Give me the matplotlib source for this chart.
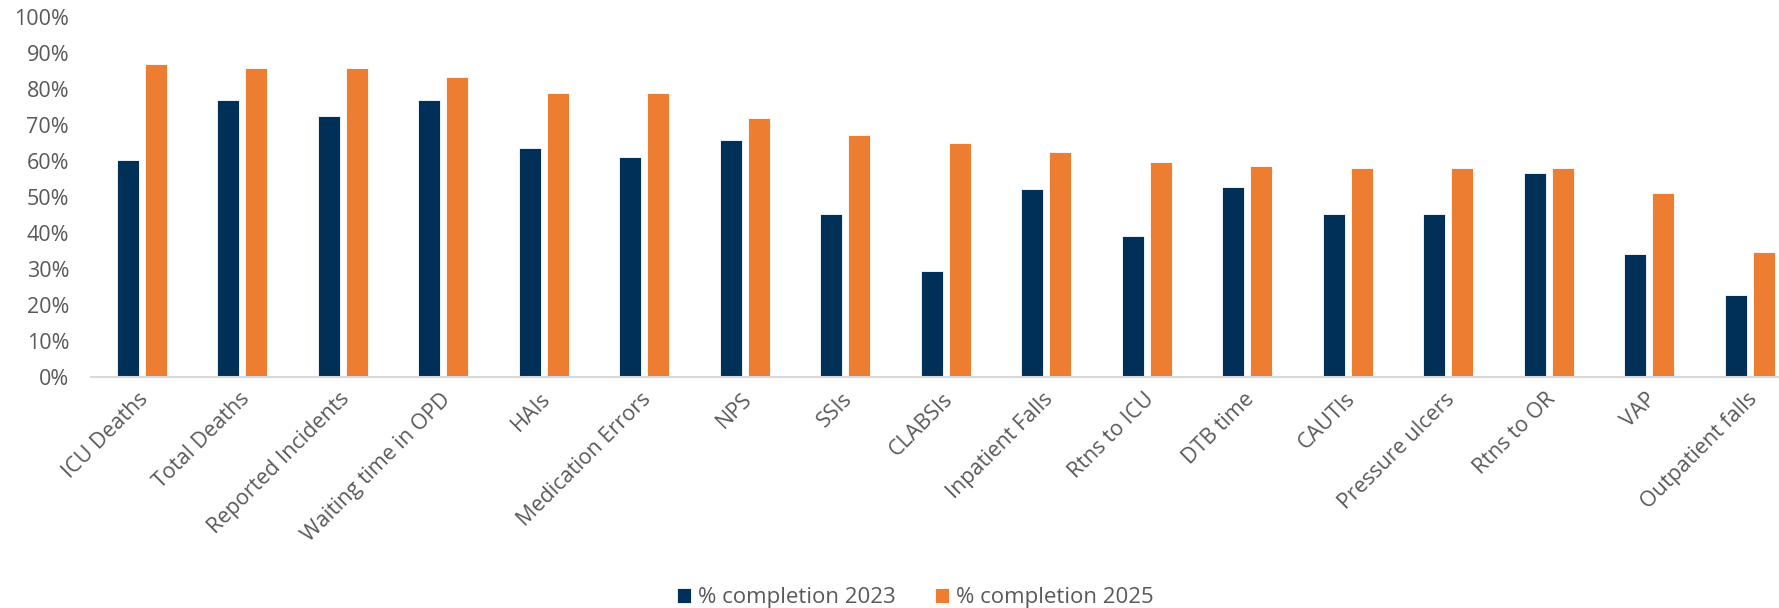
import matplotlib
matplotlib.use("Agg")
import matplotlib.pyplot as plt
import matplotlib.transforms as mtransforms
import numpy as np
from matplotlib.ticker import PercentFormatter

categories = [
    "ICU Deaths", "Total Deaths", "Reported Incidents", "Waiting time in OPD",
    "HAIs", "Medication Errors", "NPS", "SSIs", "CLABSIs", "Inpatient Falls",
    "Rtns to ICU", "DTB time", "CAUTIs", "Pressure ulcers", "Rtns to OR",
    "VAP", "Outpatient falls",
]
completion_2023 = [60.3, 77.0, 72.5, 77.0, 63.5, 61.2, 65.7, 45.3, 29.5, 52.2,
                   39.2, 52.7, 45.3, 45.3, 56.6, 34.0, 22.6]
completion_2025 = [87.0, 85.8, 85.8, 83.4, 78.9, 78.9, 71.9, 67.2, 64.9, 62.5,
                   59.8, 58.6, 58.0, 58.0, 58.0, 51.0, 34.7]
series_labels = ["% completion 2023", "% completion 2025"]

NAVY = "#002F57"
ORANGE = "#ED7D31"
TEXT = "#595959"
AXIS = "#D9D9D9"

W, H = 1779, 608
fig = plt.figure(figsize=(W / 100, H / 100), dpi=100)
plt.rcParams["font.family"] = ["Open Sans", "DejaVu Sans"]

# axes in pixel terms; the last category runs past the right edge of the figure
left_px, right_px = 91.3, 1800.0
top_px, bottom_px = 17.0, 376.7
ax = fig.add_axes([left_px / W, 1 - bottom_px / H,
                   (right_px - left_px) / W, (bottom_px - top_px) / H])

x = np.arange(len(categories))
bw = 0.219
off = 0.139
ax.bar(x - off, completion_2023, width=bw, color=NAVY, edgecolor="white",
       linewidth=0.6, label=series_labels[0], zorder=2)
ax.bar(x + off, completion_2025, width=bw, color=ORANGE, edgecolor="white",
       linewidth=0.6, label=series_labels[1], zorder=2)

ax.set_xlim(-0.5, len(categories) - 0.5)
ax.set_ylim(0, 100)
ax.set_yticks(np.arange(0, 101, 10))
ax.yaxis.set_major_formatter(PercentFormatter(decimals=0))
ax.tick_params(axis="y", length=0, pad=16, labelsize=15.5, labelcolor=TEXT)

ax.set_xticks(x)
ax.set_xticklabels(categories, rotation=45, ha="right", va="center",
                   rotation_mode="anchor", fontsize=15.5, color=TEXT)
ax.tick_params(axis="x", length=0, pad=14)
shift = mtransforms.ScaledTranslation(4 / 100, 0, fig.dpi_scale_trans)
for lbl in ax.get_xticklabels():
    lbl.set_transform(lbl.get_transform() + shift)

for s in ["top", "right", "left"]:
    ax.spines[s].set_visible(False)
ax.spines["bottom"].set_color(AXIS)
ax.spines["bottom"].set_linewidth(1.5)
ax.spines["bottom"].set_zorder(3)

leg = fig.legend(loc="center", bbox_to_anchor=(915.5 / W, 1 - 598 / H),
                 ncol=2, frameon=False, fontsize=16, handlelength=0.63,
                 handleheight=0.63, handletextpad=0.3, columnspacing=1.8)
for t in leg.get_texts():
    t.set_color(TEXT)

fig.savefig("out.png", dpi=100)
